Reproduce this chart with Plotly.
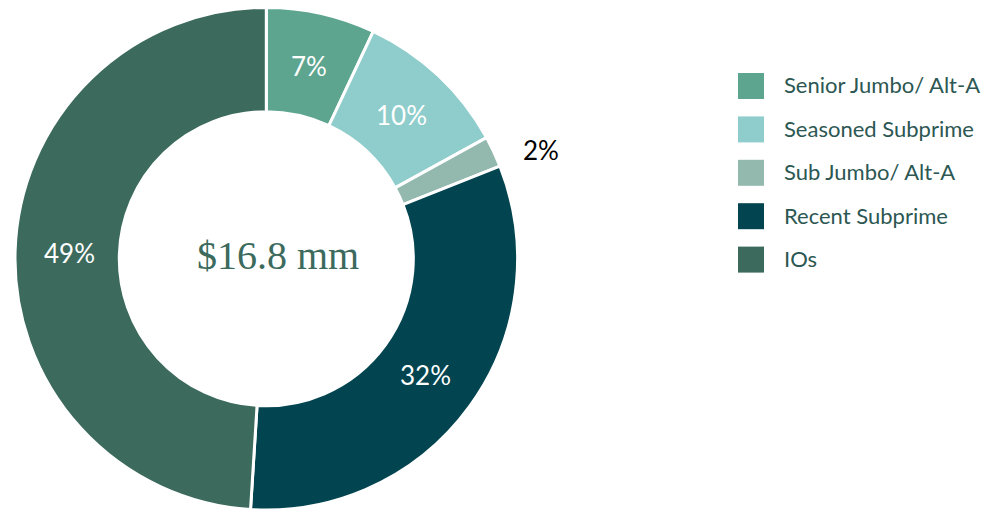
import math
import plotly.graph_objects as go

# Portfolio composition by segment
labels = ["Senior Jumbo/ Alt-A", "Seasoned Subprime", "Sub Jumbo/ Alt-A", "Recent Subprime", "IOs"]
shares = [7, 10, 2, 32, 49]
colors = ["#5DA58F", "#8ECDCB", "#93B9AE", "#02444F", "#3C6A5D"]
# slices whose value is written beside the ring instead of inside it
outside_flags = [False, False, True, False, False]
total_label = "$16.8 mm"

W, H = 992, 511

# Pie placement in pixels (centre, outer radius, hole fraction)
CX, CY, R = 266.3, 258.7, 251.3
HOLE = 0.585

fig = go.Figure()
fig.add_trace(go.Pie(
    labels=labels,
    values=shares,
    sort=False,
    direction="clockwise",
    rotation=0,
    hole=HOLE,
    marker=dict(colors=colors, line=dict(color="white", width=3)),
    textinfo="none",
    hoverinfo="label+percent",
    showlegend=False,
    domain=dict(x=[(CX - R) / W, (CX + R) / W],
                y=[1 - (CY + R) / H, 1 - (CY - R) / H]),
))

# Percentage labels at each slice's mid-angle
ring_mid = R * (1 + HOLE) / 2 - 2
total = sum(shares)
cum = 0
for v, out in zip(shares, outside_flags):
    mid = (cum + v / 2) / total * 2 * math.pi
    cum += v
    if out:
        px = CX + R * math.sin(mid) + 27
        py = CY - R * math.cos(mid) - 2
        anchor, color = "left", "black"
    else:
        px = CX + ring_mid * math.sin(mid)
        py = CY - ring_mid * math.cos(mid)
        anchor, color = "center", "white"
    fig.add_annotation(
        x=px / W, y=1 - py / H, xref="paper", yref="paper",
        text=f"{v}%", showarrow=False, xanchor=anchor, yanchor="middle",
        font=dict(family="Lato", size=26, color=color),
    )

# Centre total
fig.add_annotation(
    x=278 / W, y=1 - 255 / H, xref="paper", yref="paper",
    text=total_label, showarrow=False,
    font=dict(family="Liberation Serif", size=40, color="#3C6A5D"),
    xanchor="center", yanchor="middle",
)

# Legend built from the categories and colours
sq = 26
x0 = 738
y_first = 86
step = 43.4
for i, (lab, col) in enumerate(zip(labels, colors)):
    yc = y_first + i * step
    fig.add_shape(
        type="rect", xref="paper", yref="paper",
        x0=x0 / W, x1=(x0 + sq) / W,
        y0=1 - (yc + sq / 2) / H, y1=1 - (yc - sq / 2) / H,
        fillcolor=col, line=dict(width=0),
    )
    fig.add_annotation(
        x=782 / W, y=1 - (yc - 1) / H, xref="paper", yref="paper",
        text=lab, showarrow=False, xanchor="left", yanchor="middle",
        font=dict(family="Lato", size=22, color="#2C5752"),
    )

fig.update_layout(
    width=W, height=H,
    margin=dict(l=0, r=0, t=0, b=0),
    paper_bgcolor="white",
    plot_bgcolor="white",
)

fig.write_html("out.html")
